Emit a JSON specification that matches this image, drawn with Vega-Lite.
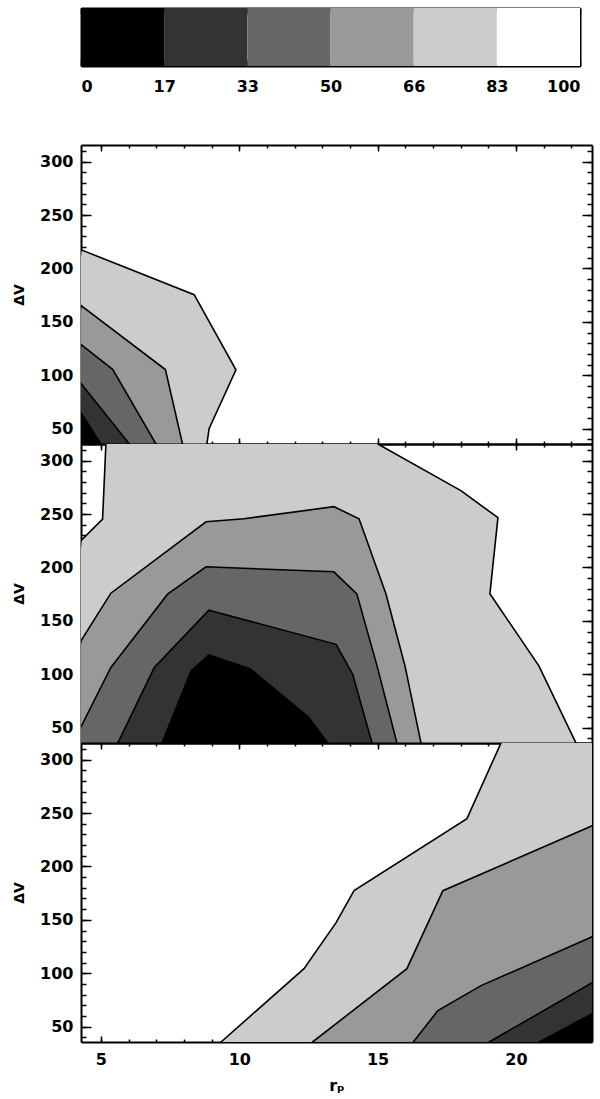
{
"$schema": "https://vega.github.io/schema/vega-lite/v6.json",
"padding": {"left": 12, "top": 7, "right": 5, "bottom": 0},
"config": {
  "view": {"stroke": null},
  "font": "DejaVu Sans",
  "axis": {"labelFont": "DejaVu Sans", "labelFontSize": 16, "labelFontWeight": "bold", "labelColor": "#000", "titleFont": "DejaVu Sans", "titleFontSize": 14, "titleFontWeight": "bold", "titleColor": "#000", "tickColor": "#000", "domainColor": "#000", "grid": false, "zindex": 1}
},
"datasets": {
  "bar": [{"a":0,"b":1},{"a":1,"b":2},{"a":2,"b":3},{"a":3,"b":4},{"a":4,"b":5},{"a":5,"b":6}],
  "ax": [{"x":10,"y":100,"a":1}],
  "c": [
{"p":1,"l":83,"i":0,"x":3.5,"y":20},{"p":1,"l":83,"i":1,"x":4.28,"y":217.5},{"p":1,"l":83,"i":2,"x":8.37,"y":175.4},{"p":1,"l":83,"i":3,"x":9.88,"y":105},{"p":1,"l":83,"i":4,"x":8.91,"y":50},{"p":1,"l":83,"i":5,"x":8.83,"y":35.6},{"p":1,"l":83,"i":6,"x":8.83,"y":20},
{"p":1,"l":66,"i":0,"x":3.5,"y":20},{"p":1,"l":66,"i":1,"x":4.28,"y":165.4},{"p":1,"l":66,"i":2,"x":7.33,"y":105.3},{"p":1,"l":66,"i":3,"x":7.95,"y":35.6},{"p":1,"l":66,"i":4,"x":7.95,"y":20},
{"p":1,"l":50,"i":0,"x":3.5,"y":20},{"p":1,"l":50,"i":1,"x":4.28,"y":128.7},{"p":1,"l":50,"i":2,"x":5.43,"y":105.3},{"p":1,"l":50,"i":3,"x":6.99,"y":35.6},{"p":1,"l":50,"i":4,"x":6.99,"y":20},
{"p":1,"l":33,"i":0,"x":3.5,"y":20},{"p":1,"l":33,"i":1,"x":4.28,"y":92.2},{"p":1,"l":33,"i":2,"x":6.03,"y":35.6},{"p":1,"l":33,"i":3,"x":6.03,"y":20},
{"p":1,"l":17,"i":0,"x":3.5,"y":20},{"p":1,"l":17,"i":1,"x":4.28,"y":64.8},{"p":1,"l":17,"i":2,"x":5.0,"y":35.6},{"p":1,"l":17,"i":3,"x":5.0,"y":20},

{"p":2,"l":83,"i":0,"x":3.5,"y":20},{"p":2,"l":83,"i":1,"x":4.28,"y":225},{"p":2,"l":83,"i":2,"x":5.06,"y":245.3},{"p":2,"l":83,"i":3,"x":5.18,"y":315.6},{"p":2,"l":83,"i":4,"x":5.18,"y":330},{"p":2,"l":83,"i":5,"x":15.01,"y":330},{"p":2,"l":83,"i":6,"x":15.01,"y":315.6},{"p":2,"l":83,"i":7,"x":18.01,"y":271.9},{"p":2,"l":83,"i":8,"x":19.35,"y":246.6},{"p":2,"l":83,"i":9,"x":19.06,"y":175.3},{"p":2,"l":83,"i":10,"x":20.83,"y":107.8},{"p":2,"l":83,"i":11,"x":22.17,"y":35.6},{"p":2,"l":83,"i":12,"x":22.17,"y":20},
{"p":2,"l":66,"i":0,"x":3.5,"y":20},{"p":2,"l":66,"i":1,"x":4.28,"y":131.3},{"p":2,"l":66,"i":2,"x":5.36,"y":175.9},{"p":2,"l":66,"i":3,"x":8.8,"y":242.8},{"p":2,"l":66,"i":4,"x":10.17,"y":245.6},{"p":2,"l":66,"i":5,"x":13.42,"y":256.9},{"p":2,"l":66,"i":6,"x":14.33,"y":245.6},{"p":2,"l":66,"i":7,"x":15.3,"y":175.3},{"p":2,"l":66,"i":8,"x":15.99,"y":107.8},{"p":2,"l":66,"i":9,"x":16.57,"y":35.6},{"p":2,"l":66,"i":10,"x":16.57,"y":20},
{"p":2,"l":50,"i":0,"x":3.5,"y":20},{"p":2,"l":50,"i":1,"x":4.28,"y":50.9},{"p":2,"l":50,"i":2,"x":5.36,"y":106.3},{"p":2,"l":50,"i":3,"x":7.41,"y":175},{"p":2,"l":50,"i":4,"x":8.8,"y":200.6},{"p":2,"l":50,"i":5,"x":13.42,"y":195.9},{"p":2,"l":50,"i":6,"x":14.25,"y":175.3},{"p":2,"l":50,"i":7,"x":14.98,"y":107.8},{"p":2,"l":50,"i":8,"x":15.7,"y":35.6},{"p":2,"l":50,"i":9,"x":15.7,"y":20},
{"p":2,"l":33,"i":0,"x":5.61,"y":20},{"p":2,"l":33,"i":1,"x":5.61,"y":35.6},{"p":2,"l":33,"i":2,"x":6.93,"y":106.3},{"p":2,"l":33,"i":3,"x":8.9,"y":160},{"p":2,"l":33,"i":4,"x":13.5,"y":128},{"p":2,"l":33,"i":5,"x":14.1,"y":100},{"p":2,"l":33,"i":6,"x":14.8,"y":35.6},{"p":2,"l":33,"i":7,"x":14.8,"y":20},
{"p":2,"l":17,"i":0,"x":7.21,"y":20},{"p":2,"l":17,"i":1,"x":7.21,"y":35.6},{"p":2,"l":17,"i":2,"x":8.26,"y":103},{"p":2,"l":17,"i":3,"x":8.9,"y":118},{"p":2,"l":17,"i":4,"x":10.4,"y":105},{"p":2,"l":17,"i":5,"x":12.5,"y":60},{"p":2,"l":17,"i":6,"x":13.2,"y":35.6},{"p":2,"l":17,"i":7,"x":13.2,"y":20},

{"p":3,"l":83,"i":0,"x":9.34,"y":20},{"p":3,"l":83,"i":1,"x":9.34,"y":35.6},{"p":3,"l":83,"i":2,"x":12.34,"y":104.3},{"p":3,"l":83,"i":3,"x":13.5,"y":147.4},{"p":3,"l":83,"i":4,"x":14.15,"y":177.3},{"p":3,"l":83,"i":5,"x":18.23,"y":244.8},{"p":3,"l":83,"i":6,"x":19.46,"y":315.6},{"p":3,"l":83,"i":7,"x":19.46,"y":330},{"p":3,"l":83,"i":8,"x":23.5,"y":330},{"p":3,"l":83,"i":9,"x":23.5,"y":20},
{"p":3,"l":66,"i":0,"x":12.65,"y":20},{"p":3,"l":66,"i":1,"x":12.65,"y":35.6},{"p":3,"l":66,"i":2,"x":16.06,"y":104.3},{"p":3,"l":66,"i":3,"x":17.36,"y":177.3},{"p":3,"l":66,"i":4,"x":22.75,"y":238},{"p":3,"l":66,"i":5,"x":23.5,"y":238},{"p":3,"l":66,"i":6,"x":23.5,"y":20},
{"p":3,"l":50,"i":0,"x":16.29,"y":20},{"p":3,"l":50,"i":1,"x":16.29,"y":35.6},{"p":3,"l":50,"i":2,"x":17.18,"y":65},{"p":3,"l":50,"i":3,"x":18.74,"y":88.4},{"p":3,"l":50,"i":4,"x":22.75,"y":134},{"p":3,"l":50,"i":5,"x":23.5,"y":134},{"p":3,"l":50,"i":6,"x":23.5,"y":20},
{"p":3,"l":33,"i":0,"x":19.03,"y":20},{"p":3,"l":33,"i":1,"x":19.03,"y":35.6},{"p":3,"l":33,"i":2,"x":22.75,"y":91},{"p":3,"l":33,"i":3,"x":23.5,"y":91},{"p":3,"l":33,"i":4,"x":23.5,"y":20},
{"p":3,"l":17,"i":0,"x":20.84,"y":20},{"p":3,"l":17,"i":1,"x":20.84,"y":35.6},{"p":3,"l":17,"i":2,"x":22.75,"y":62},{"p":3,"l":17,"i":3,"x":23.5,"y":62},{"p":3,"l":17,"i":4,"x":23.5,"y":20}
  ]
},
"spacing": 50,
"vconcat": [
{
  "width": 499, "height": 58,
  "data": {"name": "bar"},
  "layer": [
    {"mark": {"type": "rect"},
     "encoding": {
       "x": {"field": "a", "type": "quantitative", "scale": {"domain": [0, 6], "nice": false, "zero": false},
             "axis": {"orient": "bottom", "values": [0,1,2,3,4,5,6], "labelExpr": "['0','17','33','50','66','83','100'][datum.value]", "tickSize": -6, "tickWidth": 1.5, "labelPadding": 18, "domainWidth": 2, "title": null}},
       "x2": {"field": "b"},
       "y": {"datum": 0, "type": "quantitative", "scale": {"domain": [0, 1], "nice": false}, "axis": {"orient": "left", "ticks": false, "labels": false, "domainWidth": 2, "title": null}},
       "y2": {"datum": 1},
       "fill": {"field": "a", "type": "ordinal", "scale": {"domain": [0,1,2,3,4,5], "range": ["#000000","#333333","#666666","#999999","#cccccc","#ffffff"]}, "legend": null}
     }},
    {"data": {"name": "ax"}, "mark": {"type": "point", "opacity": 0},
     "encoding": {
       "x": {"field": "a", "type": "quantitative", "axis": {"orient": "bottom", "values": [0.5,1.5,2.5,3.5,4.5,5.5], "labels": false, "domain": false, "tickSize": -6, "tickWidth": 1.5, "title": null}},
       "y": {"datum": 0.5, "type": "quantitative", "axis": {"orient": "right", "ticks": false, "labels": false, "domainWidth": 2, "title": null}}
     }},
    {"data": {"name": "ax"}, "mark": {"type": "point", "opacity": 0},
     "encoding": {
       "x": {"field": "a", "type": "quantitative", "axis": {"orient": "top", "values": [0,0.5,1,1.5,2,2.5,3,3.5,4,4.5,5,5.5,6], "labels": false, "domainWidth": 2, "tickSize": -6, "tickWidth": 1.5, "title": null}}
     }}
  ],
  "resolve": {"axis": {"x": "independent", "y": "independent"}}
},
{
  "spacing": 0,
  "bounds": "flush",
  "vconcat": [
  {
    "width": 511, "height": 299,
    "data": {"name": "c"},
    "layer": [
      {"transform": [{"filter": "datum.p==1 && datum.l==83"}], "mark": {"type": "line", "fill": "#cccccc", "stroke": "#000", "strokeWidth": 1.6, "clip": true},
       "encoding": {"x": {"field": "x", "type": "quantitative", "scale": {"domain": [4.28, 22.75], "nice": false, "zero": false}, "axis": null}, "y": {"field": "y", "type": "quantitative", "scale": {"domain": [35.6, 315.6], "nice": false, "zero": false}, "axis": null}, "order": {"field": "i"}}},
      {"transform": [{"filter": "datum.p==1 && datum.l==66"}], "mark": {"type": "line", "fill": "#999999", "stroke": "#000", "strokeWidth": 1.6, "clip": true},
       "encoding": {"x": {"field": "x", "type": "quantitative", "axis": null}, "y": {"field": "y", "type": "quantitative", "axis": null}, "order": {"field": "i"}}},
      {"transform": [{"filter": "datum.p==1 && datum.l==50"}], "mark": {"type": "line", "fill": "#666666", "stroke": "#000", "strokeWidth": 1.6, "clip": true},
       "encoding": {"x": {"field": "x", "type": "quantitative", "axis": null}, "y": {"field": "y", "type": "quantitative", "axis": null}, "order": {"field": "i"}}},
      {"transform": [{"filter": "datum.p==1 && datum.l==33"}], "mark": {"type": "line", "fill": "#333333", "stroke": "#000", "strokeWidth": 1.6, "clip": true},
       "encoding": {"x": {"field": "x", "type": "quantitative", "axis": null}, "y": {"field": "y", "type": "quantitative", "axis": null}, "order": {"field": "i"}}},
      {"transform": [{"filter": "datum.p==1 && datum.l==17"}], "mark": {"type": "line", "fill": "#000000", "stroke": "#000", "strokeWidth": 1.6, "clip": true},
       "encoding": {"x": {"field": "x", "type": "quantitative", "axis": null}, "y": {"field": "y", "type": "quantitative", "axis": null}, "order": {"field": "i"}}},
      {"data": {"name": "ax"}, "mark": {"type": "point", "opacity": 0},
       "encoding": {"x": {"field": "x", "type": "quantitative", "axis": {"orient": "bottom", "values": [5,10,15,20], "labels": false, "tickSize": -6, "tickWidth": 1.5, "domainWidth": 2, "title": null}},
                    "y": {"field": "y", "type": "quantitative", "axis": {"orient": "left", "values": [50,100,150,200,250,300], "tickSize": -10, "tickWidth": 1.5, "labelPadding": 18, "domainWidth": 2, "title": "ΔV", "titlePadding": 13}}}},
      {"data": {"name": "ax"}, "mark": {"type": "point", "opacity": 0},
       "encoding": {"x": {"field": "x", "type": "quantitative", "axis": {"orient": "bottom", "values": [5,6,7,8,9,10,11,12,13,14,15,16,17,18,19,20,21,22], "labels": false, "domain": false, "tickSize": -3, "tickWidth": 1.5, "title": null}},
                    "y": {"field": "y", "type": "quantitative", "axis": {"orient": "left", "values": [40,50,60,70,80,90,100,110,120,130,140,150,160,170,180,190,200,210,220,230,240,250,260,270,280,290,300,310], "labels": false, "domain": false, "tickSize": -5, "tickWidth": 1.5, "title": null}}}},
      {"data": {"name": "ax"}, "mark": {"type": "point", "opacity": 0},
       "encoding": {"x": {"field": "x", "type": "quantitative", "axis": {"orient": "top", "values": [5,10,15,20], "labels": false, "tickSize": -6, "tickWidth": 1.5, "domainWidth": 2, "title": null}},
                    "y": {"field": "y", "type": "quantitative", "axis": {"orient": "right", "values": [50,100,150,200,250,300], "labels": false, "tickSize": -10, "tickWidth": 1.5, "domainWidth": 2, "title": null}}}},
      {"data": {"name": "ax"}, "mark": {"type": "point", "opacity": 0},
       "encoding": {"x": {"field": "x", "type": "quantitative", "axis": {"orient": "top", "values": [5,6,7,8,9,10,11,12,13,14,15,16,17,18,19,20,21,22], "labels": false, "domain": false, "tickSize": -3, "tickWidth": 1.5, "title": null}},
                    "y": {"field": "y", "type": "quantitative", "axis": {"orient": "right", "values": [40,50,60,70,80,90,100,110,120,130,140,150,160,170,180,190,200,210,220,230,240,250,260,270,280,290,300,310], "labels": false, "domain": false, "tickSize": -5, "tickWidth": 1.5, "title": null}}}}
    ],
    "resolve": {"axis": {"x": "independent", "y": "independent"}}
  },
  {
    "width": 511, "height": 299,
    "data": {"name": "c"},
    "layer": [
      {"transform": [{"filter": "datum.p==2 && datum.l==83"}], "mark": {"type": "line", "fill": "#cccccc", "stroke": "#000", "strokeWidth": 1.6, "clip": true},
       "encoding": {"x": {"field": "x", "type": "quantitative", "scale": {"domain": [4.28, 22.75], "nice": false, "zero": false}, "axis": null}, "y": {"field": "y", "type": "quantitative", "scale": {"domain": [35.6, 315.6], "nice": false, "zero": false}, "axis": null}, "order": {"field": "i"}}},
      {"transform": [{"filter": "datum.p==2 && datum.l==66"}], "mark": {"type": "line", "fill": "#999999", "stroke": "#000", "strokeWidth": 1.6, "clip": true},
       "encoding": {"x": {"field": "x", "type": "quantitative", "axis": null}, "y": {"field": "y", "type": "quantitative", "axis": null}, "order": {"field": "i"}}},
      {"transform": [{"filter": "datum.p==2 && datum.l==50"}], "mark": {"type": "line", "fill": "#666666", "stroke": "#000", "strokeWidth": 1.6, "clip": true},
       "encoding": {"x": {"field": "x", "type": "quantitative", "axis": null}, "y": {"field": "y", "type": "quantitative", "axis": null}, "order": {"field": "i"}}},
      {"transform": [{"filter": "datum.p==2 && datum.l==33"}], "mark": {"type": "line", "fill": "#333333", "stroke": "#000", "strokeWidth": 1.6, "clip": true},
       "encoding": {"x": {"field": "x", "type": "quantitative", "axis": null}, "y": {"field": "y", "type": "quantitative", "axis": null}, "order": {"field": "i"}}},
      {"transform": [{"filter": "datum.p==2 && datum.l==17"}], "mark": {"type": "line", "fill": "#000000", "stroke": "#000", "strokeWidth": 1.6, "clip": true},
       "encoding": {"x": {"field": "x", "type": "quantitative", "axis": null}, "y": {"field": "y", "type": "quantitative", "axis": null}, "order": {"field": "i"}}},
      {"data": {"name": "ax"}, "mark": {"type": "point", "opacity": 0},
       "encoding": {"x": {"field": "x", "type": "quantitative", "axis": {"orient": "bottom", "values": [5,10,15,20], "labels": false, "tickSize": -6, "tickWidth": 1.5, "domainWidth": 2, "title": null}},
                    "y": {"field": "y", "type": "quantitative", "axis": {"orient": "left", "values": [50,100,150,200,250,300], "tickSize": -10, "tickWidth": 1.5, "labelPadding": 18, "domainWidth": 2, "title": "ΔV", "titlePadding": 13}}}},
      {"data": {"name": "ax"}, "mark": {"type": "point", "opacity": 0},
       "encoding": {"x": {"field": "x", "type": "quantitative", "axis": {"orient": "bottom", "values": [5,6,7,8,9,10,11,12,13,14,15,16,17,18,19,20,21,22], "labels": false, "domain": false, "tickSize": -3, "tickWidth": 1.5, "title": null}},
                    "y": {"field": "y", "type": "quantitative", "axis": {"orient": "left", "values": [40,50,60,70,80,90,100,110,120,130,140,150,160,170,180,190,200,210,220,230,240,250,260,270,280,290,300,310], "labels": false, "domain": false, "tickSize": -5, "tickWidth": 1.5, "title": null}}}},
      {"data": {"name": "ax"}, "mark": {"type": "point", "opacity": 0},
       "encoding": {"x": {"field": "x", "type": "quantitative", "axis": {"orient": "top", "values": [5,10,15,20], "labels": false, "tickSize": -6, "tickWidth": 1.5, "domainWidth": 2, "title": null}},
                    "y": {"field": "y", "type": "quantitative", "axis": {"orient": "right", "values": [50,100,150,200,250,300], "labels": false, "tickSize": -10, "tickWidth": 1.5, "domainWidth": 2, "title": null}}}},
      {"data": {"name": "ax"}, "mark": {"type": "point", "opacity": 0},
       "encoding": {"x": {"field": "x", "type": "quantitative", "axis": {"orient": "top", "values": [5,6,7,8,9,10,11,12,13,14,15,16,17,18,19,20,21,22], "labels": false, "domain": false, "tickSize": -3, "tickWidth": 1.5, "title": null}},
                    "y": {"field": "y", "type": "quantitative", "axis": {"orient": "right", "values": [40,50,60,70,80,90,100,110,120,130,140,150,160,170,180,190,200,210,220,230,240,250,260,270,280,290,300,310], "labels": false, "domain": false, "tickSize": -5, "tickWidth": 1.5, "title": null}}}}
    ],
    "resolve": {"axis": {"x": "independent", "y": "independent"}}
  },
  {
    "width": 511, "height": 299,
    "data": {"name": "c"},
    "layer": [
      {"transform": [{"filter": "datum.p==3 && datum.l==83"}], "mark": {"type": "line", "fill": "#cccccc", "stroke": "#000", "strokeWidth": 1.6, "clip": true},
       "encoding": {"x": {"field": "x", "type": "quantitative", "scale": {"domain": [4.28, 22.75], "nice": false, "zero": false}, "axis": null}, "y": {"field": "y", "type": "quantitative", "scale": {"domain": [35.6, 315.6], "nice": false, "zero": false}, "axis": null}, "order": {"field": "i"}}},
      {"transform": [{"filter": "datum.p==3 && datum.l==66"}], "mark": {"type": "line", "fill": "#999999", "stroke": "#000", "strokeWidth": 1.6, "clip": true},
       "encoding": {"x": {"field": "x", "type": "quantitative", "axis": null}, "y": {"field": "y", "type": "quantitative", "axis": null}, "order": {"field": "i"}}},
      {"transform": [{"filter": "datum.p==3 && datum.l==50"}], "mark": {"type": "line", "fill": "#666666", "stroke": "#000", "strokeWidth": 1.6, "clip": true},
       "encoding": {"x": {"field": "x", "type": "quantitative", "axis": null}, "y": {"field": "y", "type": "quantitative", "axis": null}, "order": {"field": "i"}}},
      {"transform": [{"filter": "datum.p==3 && datum.l==33"}], "mark": {"type": "line", "fill": "#333333", "stroke": "#000", "strokeWidth": 1.6, "clip": true},
       "encoding": {"x": {"field": "x", "type": "quantitative", "axis": null}, "y": {"field": "y", "type": "quantitative", "axis": null}, "order": {"field": "i"}}},
      {"transform": [{"filter": "datum.p==3 && datum.l==17"}], "mark": {"type": "line", "fill": "#000000", "stroke": "#000", "strokeWidth": 1.6, "clip": true},
       "encoding": {"x": {"field": "x", "type": "quantitative", "axis": null}, "y": {"field": "y", "type": "quantitative", "axis": null}, "order": {"field": "i"}}},
      {"data": {"name": "ax"}, "mark": {"type": "point", "opacity": 0},
       "encoding": {"x": {"field": "x", "type": "quantitative", "axis": {"orient": "bottom", "values": [5,10,15,20], "tickSize": -6, "tickWidth": 1.5, "labelPadding": 15, "domainWidth": 2, "title": "rₚ", "titleFontSize": 16, "titlePadding": 10}},
                    "y": {"field": "y", "type": "quantitative", "axis": {"orient": "left", "values": [50,100,150,200,250,300], "tickSize": -10, "tickWidth": 1.5, "labelPadding": 18, "domainWidth": 2, "title": "ΔV", "titlePadding": 13}}}},
      {"data": {"name": "ax"}, "mark": {"type": "point", "opacity": 0},
       "encoding": {"x": {"field": "x", "type": "quantitative", "axis": {"orient": "bottom", "values": [5,6,7,8,9,10,11,12,13,14,15,16,17,18,19,20,21,22], "labels": false, "domain": false, "tickSize": -3, "tickWidth": 1.5, "title": null}},
                    "y": {"field": "y", "type": "quantitative", "axis": {"orient": "left", "values": [40,50,60,70,80,90,100,110,120,130,140,150,160,170,180,190,200,210,220,230,240,250,260,270,280,290,300,310], "labels": false, "domain": false, "tickSize": -5, "tickWidth": 1.5, "title": null}}}},
      {"data": {"name": "ax"}, "mark": {"type": "point", "opacity": 0},
       "encoding": {"x": {"field": "x", "type": "quantitative", "axis": {"orient": "top", "values": [5,10,15,20], "labels": false, "tickSize": -6, "tickWidth": 1.5, "domainWidth": 2, "title": null}},
                    "y": {"field": "y", "type": "quantitative", "axis": {"orient": "right", "values": [50,100,150,200,250,300], "labels": false, "tickSize": -10, "tickWidth": 1.5, "domainWidth": 2, "title": null}}}},
      {"data": {"name": "ax"}, "mark": {"type": "point", "opacity": 0},
       "encoding": {"x": {"field": "x", "type": "quantitative", "axis": {"orient": "top", "values": [5,6,7,8,9,10,11,12,13,14,15,16,17,18,19,20,21,22], "labels": false, "domain": false, "tickSize": -3, "tickWidth": 1.5, "title": null}},
                    "y": {"field": "y", "type": "quantitative", "axis": {"orient": "right", "values": [40,50,60,70,80,90,100,110,120,130,140,150,160,170,180,190,200,210,220,230,240,250,260,270,280,290,300,310], "labels": false, "domain": false, "tickSize": -5, "tickWidth": 1.5, "title": null}}}}
    ],
    "resolve": {"axis": {"x": "independent", "y": "independent"}}
  }
  ]
}
]
}
